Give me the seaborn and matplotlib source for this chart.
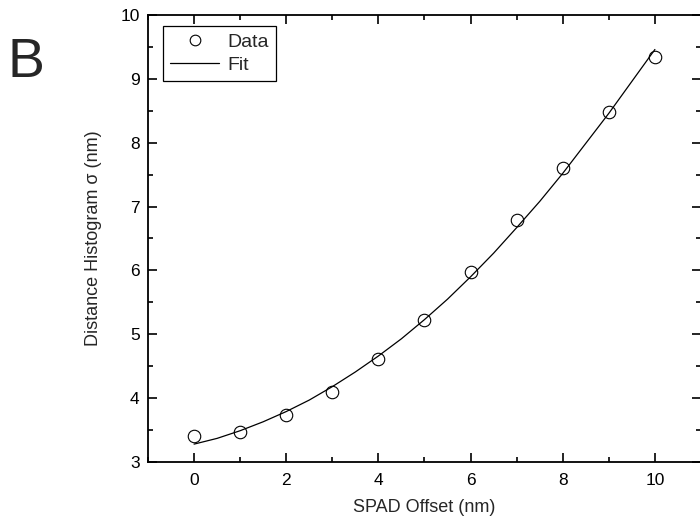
import numpy as np
import pandas as pd
from matplotlib import pyplot as plt
from matplotlib.ticker import MultipleLocator
import seaborn as sns

# measured points
offset = [0, 1, 2, 3, 4, 5, 6, 7, 8, 9, 10]
sigma = [3.41, 3.47, 3.74, 4.09, 4.62, 5.22, 5.98, 6.79, 7.61, 8.48, 9.34]

# fit curve
fit_x = [0, 0.5, 1, 1.5, 2, 2.5, 3, 3.5, 4, 4.5, 5,
         5.5, 6, 6.5, 7, 7.5, 8, 8.5, 9, 9.5, 10]
fit_y = [3.28, 3.37, 3.49, 3.63, 3.79, 3.97, 4.18, 4.41, 4.66, 4.93, 5.23,
         5.55, 5.90, 6.27, 6.67, 7.08, 7.52, 7.99, 8.46, 8.96, 9.46]

data = pd.DataFrame({"offset": offset, "sigma": sigma})
fit = pd.DataFrame({"offset": fit_x, "sigma": fit_y})

sns.set_style("ticks")
plt.rcParams["font.family"] = ["Liberation Sans", "DejaVu Sans"]

fig = plt.figure(figsize=(7, 5.28), dpi=100)
ax = fig.add_axes([0.2114, 0.125, 0.79, 0.8466])

sns.lineplot(data=data, x="offset", y="sigma", ax=ax, label="Data",
             marker="o", linestyle="", markersize=9, markerfacecolor="none",
             markeredgecolor="black", markeredgewidth=0.8, color="black")
sns.lineplot(data=fit, x="offset", y="sigma", ax=ax, label="Fit",
             color="black", linewidth=0.9)

ax.set_xlim(-1, 11)
ax.set_ylim(3, 10)
ax.xaxis.set_major_locator(MultipleLocator(2))
ax.xaxis.set_minor_locator(MultipleLocator(1))
ax.yaxis.set_major_locator(MultipleLocator(1))
ax.yaxis.set_minor_locator(MultipleLocator(0.5))
ax.tick_params(which="both", direction="in", top=True, right=True,
               width=1.2, colors="black", labelsize=12.5)
ax.tick_params(which="major", length=6.5)
ax.tick_params(which="minor", length=3.5)
ax.tick_params(axis="x", which="major", pad=8)
ax.tick_params(axis="y", which="major", pad=6)
for sp in ax.spines.values():
    sp.set_linewidth(1.3)
    sp.set_color("black")

ax.set_xlabel("SPAD Offset (nm)", fontsize=13, labelpad=8)
ax.set_ylabel("Distance Histogram σ (nm)", fontsize=13, labelpad=13)

leg = ax.legend(loc="upper left", bbox_to_anchor=(0.028, 0.975), fontsize=14,
                frameon=True, fancybox=False, edgecolor="black", framealpha=1,
                handlelength=2.5, handletextpad=0.45, borderpad=0.35,
                labelspacing=0.3, borderaxespad=0, markerscale=0.85)
leg.get_frame().set_linewidth(0.9)

fig.text(0.011, 0.855, "B", fontsize=40)

plt.savefig("out.png", dpi=100)
